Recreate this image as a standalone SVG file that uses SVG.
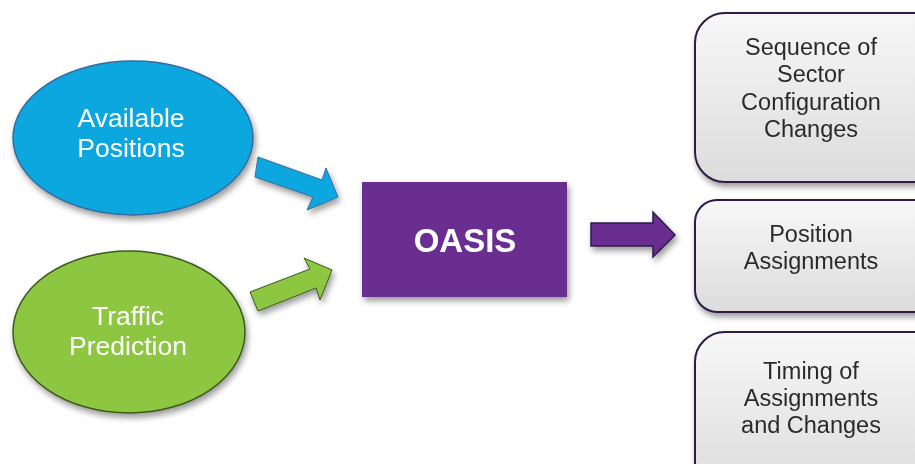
<svg xmlns="http://www.w3.org/2000/svg" width="915" height="464" viewBox="0 0 915 464">
<defs>
<filter id="sh" x="-20%" y="-20%" width="140%" height="150%">
<feGaussianBlur in="SourceAlpha" stdDeviation="3"/>
<feOffset dx="2" dy="4" result="b"/>
<feComponentTransfer><feFuncA type="linear" slope="0.4"/></feComponentTransfer>
<feMerge><feMergeNode/><feMergeNode in="SourceGraphic"/></feMerge>
</filter>
<linearGradient id="gb" x1="0" y1="0" x2="0" y2="1">
<stop offset="0" stop-color="#f7f7f7"/>
<stop offset="1" stop-color="#dcdcdc"/>
</linearGradient>
</defs>
<style>
.lbl{font-family:"Liberation Sans",Arial,sans-serif;text-anchor:middle}
.wt{fill:#ffffff;font-size:26.5px}
.dk{fill:#2b2b2b;font-size:23.5px}
.box{fill:url(#gb);stroke:#2e1a47;stroke-width:2}
</style>
<rect width="915" height="464" fill="#ffffff"/>
<g id="available-positions" filter="url(#sh)">
<ellipse cx="133" cy="138" rx="120" ry="77" fill="#0aa7e0" stroke="#3b6aa0" stroke-width="1.5"/>
<text class="lbl wt" x="131" y="127">Available</text>
<text class="lbl wt" x="131" y="157">Positions</text>
</g>
<g id="traffic-prediction" filter="url(#sh)">
<ellipse cx="129" cy="332" rx="116" ry="81" fill="#8dc641" stroke="#3c5a1e" stroke-width="1.5"/>
<text class="lbl wt" x="128" y="325">Traffic</text>
<text class="lbl wt" x="128" y="355">Prediction</text>
</g>
<g id="oasis" filter="url(#sh)">
<rect x="362" y="182" width="205" height="115" fill="#6a2d91"/>
<text class="lbl" x="465" y="252" fill="#ffffff" font-size="33" font-weight="bold">OASIS</text>
</g>
<g id="sequence" filter="url(#sh)">
<rect class="box" x="695" y="13" width="250" height="169" rx="30"/>
<text class="lbl dk" x="811" y="55">Sequence of</text>
<text class="lbl dk" x="811" y="82">Sector</text>
<text class="lbl dk" x="811" y="110">Configuration</text>
<text class="lbl dk" x="811" y="137">Changes</text>
</g>
<g id="position-assignments" filter="url(#sh)">
<rect class="box" x="695" y="200" width="250" height="112" rx="22"/>
<text class="lbl dk" x="811" y="242">Position</text>
<text class="lbl dk" x="811" y="269">Assignments</text>
</g>
<g id="timing" filter="url(#sh)">
<rect class="box" x="695" y="332" width="250" height="160" rx="30"/>
<text class="lbl dk" x="811" y="379">Timing of</text>
<text class="lbl dk" x="811" y="406">Assignments</text>
<text class="lbl dk" x="811" y="433">and Changes</text>
</g>
<g id="connectors" filter="url(#sh)">
<polygon points="258,157 322,180 326,168 338,197 307,210 313,197 255,177" fill="#0aa7e0" stroke="#3b6aa0" stroke-width="1"/>
<polygon points="250,292 310,269 304,258 332,270 320,300 316,288 258,311" fill="#8dc641" stroke="#3c5a1e" stroke-width="1"/>
<polygon points="591,223 653,223 653,212 675,235 653,257 653,246 591,246" fill="#6a2d91" stroke="#2e1a47" stroke-width="1.5"/>
</g>
</svg>
